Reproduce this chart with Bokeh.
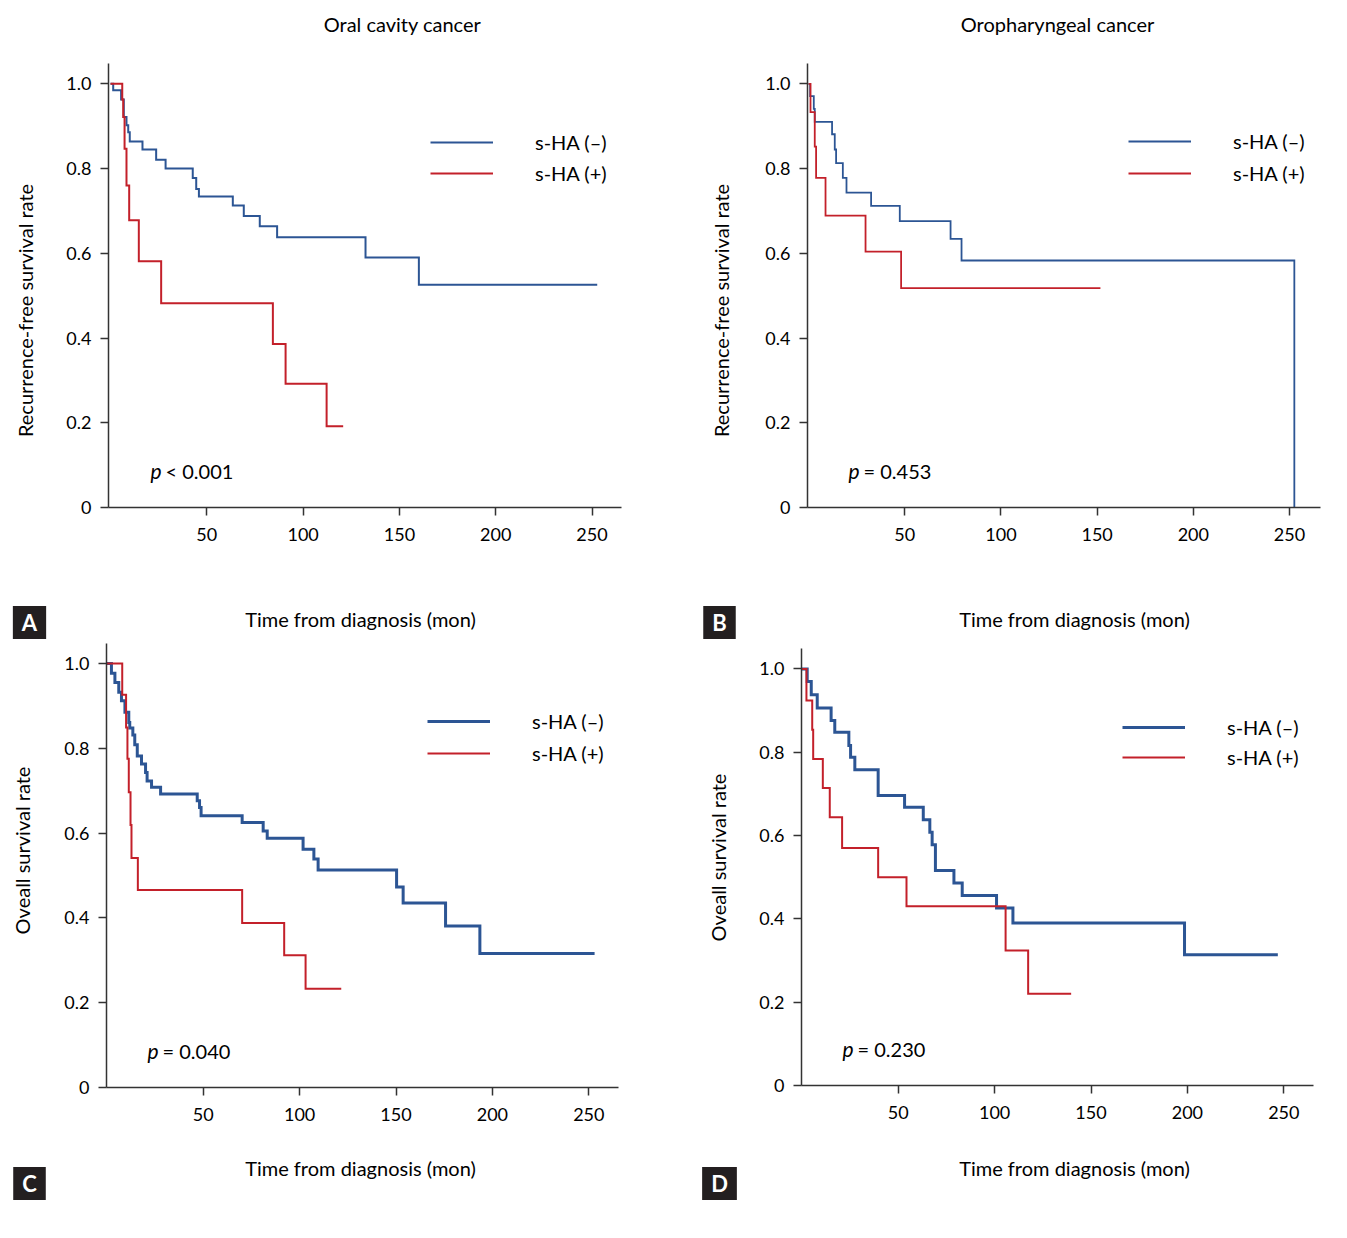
import math
from bokeh.plotting import figure
from bokeh.layouts import column, row
from bokeh.models import (Label, Legend, LegendItem, FixedTicker,
                          CustomJSTickFormatter, Range1d)
from bokeh.embed import file_html
from bokeh.resources import INLINE

FONT = "Lato"
BLUE = "#2c5594"
RED = "#c3202a"
AXIS = "#333333"

# ---------------- data (months, survival probability) ----------------
# A: Oral cavity cancer, recurrence-free survival
a_neg_t = [0, 1.4, 5.5, 6.9, 8.3, 9.2, 10.0, 16.6, 23.7, 28.6, 42.7, 44.5, 45.9,
           63.5, 69.2, 77.5, 86.5, 132.4, 160.1, 252.7]
a_neg_s = [1.0, 0.985, 0.963, 0.922, 0.902, 0.886, 0.864, 0.845, 0.821, 0.800, 0.778,
           0.752, 0.734, 0.713, 0.688, 0.664, 0.638, 0.590, 0.526, 0.526]
a_pos_t = [0, 6.1, 6.6, 7.3, 8.3, 9.7, 14.7, 26.3, 84.3, 90.9, 112.2, 120.8]
a_pos_s = [1.0, 0.963, 0.922, 0.847, 0.760, 0.678, 0.581, 0.482, 0.386, 0.292, 0.192, 0.192]

# B: Oropharyngeal cancer, recurrence-free survival
b_neg_t = [0, 0.8, 2.7, 3.2, 12.2, 13.6, 14.3, 17.8, 19.7, 32.5, 47.4, 73.8, 79.5, 252.5]
b_neg_s = [1.0, 0.971, 0.941, 0.910, 0.881, 0.845, 0.813, 0.778, 0.743, 0.712, 0.676,
           0.634, 0.583, 0.0]
b_pos_t = [0, 1.0, 3.2, 3.9, 8.8, 29.6, 48.1, 151.7]
b_pos_s = [1.0, 0.933, 0.852, 0.778, 0.689, 0.604, 0.518, 0.518]

# C: Oral cavity cancer, overall survival
c_neg_t = [0, 2.4, 4.2, 6.2, 7.6, 9.4, 11.4, 11.9, 13.5, 14.5, 15.8, 18.0, 20.1, 20.9,
           23.2, 27.9, 46.9, 48.1, 48.9, 70.2, 81.1, 83.2, 101.8, 107.4, 109.6, 150.3,
           153.7, 175.7, 193.5, 253.0]
c_neg_s = [1.0, 0.977, 0.955, 0.932, 0.912, 0.885, 0.861, 0.848, 0.831, 0.808, 0.782,
           0.763, 0.743, 0.723, 0.708, 0.692, 0.676, 0.660, 0.641, 0.625, 0.605, 0.588,
           0.562, 0.539, 0.513, 0.473, 0.435, 0.381, 0.316, 0.316]
c_pos_t = [0, 8.0, 10.0, 10.7, 11.4, 12.3, 12.8, 16.1, 70.2, 92.0, 103.1, 121.6]
c_pos_s = [1.0, 0.926, 0.849, 0.775, 0.696, 0.619, 0.541, 0.466, 0.388, 0.312, 0.233, 0.233]

# D: Oropharyngeal cancer, overall survival
d_neg_t = [0, 2.8, 4.9, 8.0, 15.2, 17.1, 24.4, 25.3, 27.5, 39.6, 53.3, 63.0, 66.4, 67.6,
           69.3, 78.9, 83.2, 101.0, 109.5, 198.5, 246.9]
d_neg_s = [1.0, 0.970, 0.938, 0.906, 0.876, 0.848, 0.816, 0.788, 0.758, 0.696, 0.668,
           0.638, 0.608, 0.578, 0.516, 0.486, 0.456, 0.426, 0.390, 0.314, 0.314]
d_pos_t = [0, 2.4, 5.4, 5.9, 10.9, 14.5, 20.9, 39.6, 54.3, 105.7, 117.4, 139.7]
d_pos_s = [1.0, 0.924, 0.854, 0.784, 0.714, 0.644, 0.570, 0.500, 0.430, 0.324, 0.220, 0.220]

x_ticks = [50, 100, 150, 200, 250]
y_ticks = [0, 0.2, 0.4, 0.6, 0.8, 1.0]
series_labels = ["s-HA (\u2013)", "s-HA (+)"]
titles = ["Oral cavity cancer", "Oropharyngeal cancer"]
ylabels = ["Recurrence-free survival rate", "Recurrence-free survival rate",
           "Oveall survival rate", "Oveall survival rate"]
xlabel = "Time from diagnosis (mon)"
pvals = ["< 0.001", "= 0.453", "= 0.040", "= 0.230"]
letters = ["A", "B", "C", "D"]


def add_text(p, x, y, s, size="20px", align="left", baseline="middle", angle=0.0,
             style="normal", color="black", **kw):
    lab = Label(x=x, y=y, x_units="screen", y_units="screen", text=s,
                text_font=FONT, text_font_size=size, text_align=align,
                text_baseline=baseline, angle=angle, text_font_style=style,
                text_color=color, **kw)
    p.add_layout(lab)
    return lab


def strip(w, h):
    s = figure(width=w, height=h, x_range=Range1d(0, 1), y_range=Range1d(0, 1),
               output_backend="svg", toolbar_location=None,
               x_axis_location=None, y_axis_location=None, min_border=0,
               frame_align=False)
    s.outline_line_color = None
    s.xgrid.visible = False
    s.ygrid.visible = False
    return s


def panel(cfg):
    p = figure(width=cfg["w"], height=cfg["h"],
               x_range=Range1d(*cfg["xr"]), y_range=Range1d(*cfg["yr"]),
               output_backend="svg", toolbar_location=None, frame_align=False,
               min_border_left=cfg["bl"], min_border_right=cfg["br"],
               min_border_top=cfg["bt"], min_border_bottom=cfg["bb"])
    p.outline_line_color = None
    p.xgrid.visible = False
    p.ygrid.visible = False

    for ax in (p.xaxis[0], p.yaxis[0]):
        ax.axis_line_color = AXIS
        ax.axis_line_width = 1.5
        ax.major_tick_line_color = AXIS
        ax.major_tick_line_width = 1.5
        ax.major_tick_out = 8
        ax.major_tick_in = 0
        ax.minor_tick_line_color = None
        ax.major_label_text_font = FONT
        ax.major_label_text_font_size = "18px"
        ax.major_label_text_color = "black"
    p.xaxis[0].ticker = FixedTicker(ticks=x_ticks)
    p.xaxis[0].major_label_standoff = 12
    p.yaxis[0].ticker = FixedTicker(ticks=y_ticks)
    p.yaxis[0].formatter = CustomJSTickFormatter(
        code="return tick == 0 ? '0' : tick.toFixed(1);")
    p.yaxis[0].major_label_standoff = 9

    rn = p.step(cfg["neg_t"], cfg["neg_s"], mode="after", line_color=BLUE,
                line_width=cfg["lw_neg"], line_join="miter")
    rp = p.step(cfg["pos_t"], cfg["pos_s"], mode="after", line_color=RED,
                line_width=cfg["lw_pos"], line_join="miter")

    leg = Legend(items=[LegendItem(label=series_labels[0], renderers=[rn]),
                        LegendItem(label=series_labels[1], renderers=[rp])],
                 location=cfg["leg"], glyph_width=63, glyph_height=20,
                 label_height=20, label_standoff=42, spacing=cfg["lsp"],
                 padding=0, margin=0, border_line_color=None,
                 background_fill_alpha=0, label_text_font=FONT,
                 label_text_font_size="20px", label_text_color="black")
    p.add_layout(leg)

    # p value
    add_text(p, cfg["pv"][0], cfg["pv"][1], "p", style="italic", size="21px")
    add_text(p, cfg["pv"][0] + 15, cfg["pv"][1], cfg["pval"], size="20px")
    return p


def left_strip(w, h, x, y, text):
    s = strip(w, h)
    add_text(s, x, y, text, align="center", angle=math.pi / 2)
    return s


def bottom_strip(w, h, xl, let, letter):
    s = strip(w, h)
    add_text(s, xl[0], xl[1], xlabel, align="center")
    add_text(s, let[0], let[1], letter, size="22px", align="center", style="bold",
             color="white", background_fill_color="#231f20", padding=(9, 3))
    return s


def top_strip(w, h, tx, ty, title):
    s = strip(w, h)
    add_text(s, tx, ty, title, align="center")
    return s


LW = 50  # width of the strip holding the rotated y-axis title

cfgA = dict(w=695 - LW, h=510, bl=108 - LW, br=74, bt=13, bb=53, xr=(-1.04, 265.3),
            yr=(0, 1.048), neg_t=a_neg_t, neg_s=a_neg_s, pos_t=a_pos_t, pos_s=a_pos_s,
            lw_neg=2, lw_pos=2, leg=(322, 322), lsp=7,
            pv=(42, 37), pval=pvals[0])
cfgB = dict(w=652 - LW, h=510, bl=112 - LW, br=27, bt=13, bb=53, xr=(-0.57, 266.1),
            yr=(0, 1.048), neg_t=b_neg_t, neg_s=b_neg_s, pos_t=b_pos_t, pos_s=b_pos_s,
            lw_neg=1.8, lw_pos=1.8, leg=(321, 322), lsp=8,
            pv=(41, 37), pval=pvals[1])
cfgC = dict(w=695 - LW, h=500, bl=106 - LW, br=77, bt=3, bb=53, xr=(-0.16, 265.4),
            yr=(0, 1.047), neg_t=c_neg_t, neg_s=c_neg_s, pos_t=c_pos_t, pos_s=c_pos_s,
            lw_neg=3, lw_pos=2, leg=(321, 322), lsp=8,
            pv=(41, 37), pval=pvals[2])
cfgD = dict(w=652 - LW, h=500, bl=106 - LW, br=34, bt=8, bb=55, xr=(-0.16, 265.4),
            yr=(0, 1.049), neg_t=d_neg_t, neg_s=d_neg_s, pos_t=d_pos_t, pos_s=d_pos_s,
            lw_neg=3, lw_pos=2, leg=(321, 316), lsp=6,
            pv=(41, 37), pval=pvals[3])

colA = column(top_strip(695, 50, 402, 27, titles[0]),
              row(left_strip(LW, 510, 24, 250, ylabels[0]), panel(cfgA), spacing=0),
              bottom_strip(695, 80, (360, 22), (29, 18), letters[0]), spacing=0)
colB = column(top_strip(652, 50, 362, 27, titles[1]),
              row(left_strip(LW, 510, 25, 250, ylabels[1]), panel(cfgB), spacing=0),
              bottom_strip(652, 80, (379, 22), (24, 18), letters[1]), spacing=0)
colC = column(row(left_strip(LW, 500, 21, 290, ylabels[2]), panel(cfgC), spacing=0),
              bottom_strip(695, 98, (360, 71), (29, 55), letters[2]), spacing=0)
colD = column(row(left_strip(LW, 500, 22, 283, ylabels[3]), panel(cfgD), spacing=0),
              bottom_strip(652, 98, (379, 71), (24, 55), letters[3]), spacing=0)

layout = column(row(colA, colB, spacing=0), row(colC, colD, spacing=0), spacing=0)

open("out.html", "w").write(file_html(layout, INLINE))
